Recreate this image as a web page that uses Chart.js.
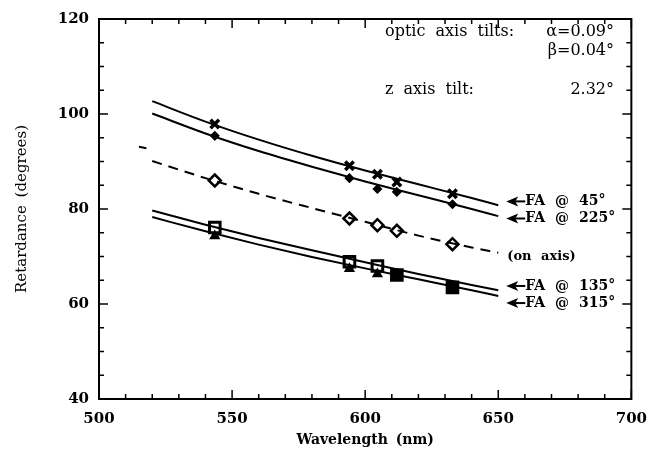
<!DOCTYPE html>
<html>
<head>
<meta charset="utf-8">
<script src="https://cdn.jsdelivr.net/npm/chart.js@4.4.1/dist/chart.umd.min.js"></script>
<style>
  html, body { margin: 0; padding: 0; background: #fff; }
  #wrap { width: 658px; height: 452px; }
</style>
</head>
<body>
<div id="wrap"><canvas id="chart" width="658" height="452"></canvas></div>
<script>
const curveWl = [520, 540, 560, 580, 600, 620, 640, 650];
const fa45Curve   = [102.7, 98.4, 94.6, 91.2, 88.1, 85.2, 82.3, 80.8];
const fa225Curve  = [100.1, 95.9, 92.2, 88.9, 85.8, 82.9, 80.0, 78.5];
const onAxisCurve = [90.1, 86.5, 83.2, 80.2, 77.3, 74.4, 71.9, 70.8];
const fa135Curve  = [79.7, 76.7, 73.9, 71.3, 68.8, 66.3, 64.0, 62.9];
const fa315Curve  = [78.3, 75.3, 72.5, 69.9, 67.5, 65.2, 62.9, 61.7];

// short stray dash left of the dashed curve
const strayWl  = [515, 517.8];
const strayVal = [93.1, 92.8];

// measured points (laser lines)
const laserWl   = [543.5, 594.1, 604.6, 611.9, 632.8];
const fa45Pts   = [97.9, 89.1, 87.3, 85.7, 83.2];
const fa225Pts  = [95.4, 86.5, 84.2, 83.6, 81.0];
const onAxisPts = [86.0, 78.0, 76.6, 75.4, 72.6];
const fa135Pts  = [76.1, 68.9, 68.0, 66.1, 63.5];
const fa315Pts  = [74.3, 67.4, 66.3, 65.8, 63.0];

const xTicks = [500, 550, 600, 650, 700];
const yTicks = [40, 60, 80, 100, 120];

const curveLabels = ['FA @ 45°', 'FA @ 225°', '(on axis)', 'FA @ 135°', 'FA @ 315°'];

const SERIF = '"DejaVu Serif", "Liberation Serif", serif';

function pts(xs, ys) {
    return xs.map((x, i) => ({ x: x, y: ys[i] }));
}

function curve(ys, dashed) {
    return {
        data: pts(curveWl, ys),
        showLine: true,
        borderColor: '#000',
        borderWidth: 2,
        borderDash: dashed ? [10, 7] : [],
        pointRadius: 0,
        cubicInterpolationMode: 'monotone'
    };
}

function markers(ys, style, radius, fill, bw) {
    return {
        data: pts(laserWl, ys),
        showLine: false,
        pointStyle: style,
        pointRadius: radius,
        pointBackgroundColor: fill,
        pointBorderColor: '#000',
        pointBorderWidth: bw
    };
}

// frame, inward ticks, labels and arrows
const decorations = {
    id: 'decorations',
    beforeDraw(chart) {
        const ctx = chart.ctx;
        ctx.save();
        ctx.fillStyle = '#fff';
        ctx.fillRect(0, 0, chart.width, chart.height);
        ctx.restore();
    },
    afterDraw(chart) {
        const ctx = chart.ctx;
        const a = chart.chartArea;
        const xs = chart.scales.x;
        const ys = chart.scales.y;
        ctx.save();
        ctx.strokeStyle = '#000';
        ctx.fillStyle = '#000';

        // frame
        ctx.lineWidth = 2;
        ctx.strokeRect(a.left, a.top, a.right - a.left, a.bottom - a.top);

        // ticks
        ctx.lineWidth = 1.5;
        ctx.beginPath();
        for (let v = 500; v <= 700; v += 10) {
            const px = xs.getPixelForValue(v);
            const len = v % 50 === 0 ? 9 : 5;
            ctx.moveTo(px, a.bottom); ctx.lineTo(px, a.bottom - len);
            ctx.moveTo(px, a.top); ctx.lineTo(px, a.top + len);
        }
        for (let v = 40; v <= 120; v += 5) {
            const py = ys.getPixelForValue(v);
            const len = v % 20 === 0 ? 9 : 5;
            ctx.moveTo(a.left, py); ctx.lineTo(a.left + len, py);
            ctx.moveTo(a.right, py); ctx.lineTo(a.right - len, py);
        }
        ctx.stroke();

        // axis titles
        ctx.textAlign = 'center';
        ctx.textBaseline = 'middle';
        ctx.wordSpacing = '3px';
        ctx.font = 'bold 14px ' + SERIF;
        ctx.fillText('Wavelength (nm)', (a.left + a.right) / 2, a.bottom + 41);
        ctx.save();
        ctx.translate(22, (a.top + a.bottom) / 2);
        ctx.rotate(-Math.PI / 2);
        ctx.font = '15px ' + SERIF;
        ctx.fillText('Retardance (degrees)', 0, 0);
        ctx.restore();

        // tilt annotation
        ctx.font = '16px ' + SERIF;
        ctx.wordSpacing = '5px';
        ctx.textAlign = 'left';
        ctx.fillText('optic axis tilts:', 385, 32);
        ctx.fillText('z axis tilt:', 385, 90);
        ctx.wordSpacing = '0px';
        ctx.textAlign = 'right';
        ctx.fillText('α=0.09°', 614, 32);
        ctx.fillText('β=0.04°', 614, 51);
        ctx.fillText('2.32°', 614, 90);

        // curve labels with arrows
        const tipX = xs.getPixelForValue(653);
        const labelY = [81.6, 78.0, 70.0, 63.8, 60.2];
        ctx.font = 'bold 14px ' + SERIF;
        ctx.wordSpacing = '5px';
        ctx.textAlign = 'left';
        curveLabels.forEach((txt, i) => {
            const y = ys.getPixelForValue(labelY[i]);
            if (i === 2) {
                ctx.font = 'bold 13px ' + SERIF;
                ctx.fillText(txt, tipX + 1, y);
                ctx.font = 'bold 14px ' + SERIF;
                return;
            }
            ctx.beginPath();
            ctx.moveTo(tipX, y);
            ctx.lineTo(tipX + 12, y - 5);
            ctx.lineTo(tipX + 9, y);
            ctx.lineTo(tipX + 12, y + 5);
            ctx.closePath();
            ctx.fill();
            ctx.lineWidth = 2;
            ctx.beginPath();
            ctx.moveTo(tipX + 8, y);
            ctx.lineTo(tipX + 19, y);
            ctx.stroke();
            ctx.fillText(txt, tipX + 19, y);
        });
        ctx.restore();
    }
};

new Chart(document.getElementById('chart'), {
    type: 'scatter',
    data: {
        datasets: [
            curve(fa45Curve, false),
            curve(fa225Curve, false),
            curve(onAxisCurve, true),
            curve(fa135Curve, false),
            curve(fa315Curve, false),
            {
                data: pts(strayWl, strayVal),
                showLine: true,
                borderColor: '#000',
                borderWidth: 2,
                pointRadius: 0
            },
            markers(fa45Pts, 'crossRot', 6, '#000', 3.5),
            markers(fa225Pts, 'rectRot', 4, '#000', 1.5),
            markers(onAxisPts, 'rectRot', 6, '#fff', 2.5),
            markers(fa315Pts, 'triangle', 5, '#000', 1.5),
            markers(fa135Pts, 'rect', 7.5, ['#fff', '#fff', '#fff', '#000', '#000'], 3)
        ]
    },
    plugins: [decorations],
    options: {
        responsive: false,
        animation: false,
        events: [],
        layout: { padding: { top: 19, right: 24, left: 0, bottom: 0 } },
        plugins: {
            legend: { display: false },
            tooltip: { enabled: false }
        },
        scales: {
            x: {
                type: 'linear',
                min: 500,
                max: 700,
                grid: { display: false, drawTicks: false },
                border: { display: false },
                afterFit(scale) { scale.height = 53; },
                afterBuildTicks(scale) { scale.ticks = xTicks.map(v => ({ value: v })); },
                ticks: {
                    color: '#000',
                    padding: 11,
                    font: { family: SERIF, size: 15, weight: 'bold' }
                }
            },
            y: {
                type: 'linear',
                min: 40,
                max: 120,
                grid: { display: false, drawTicks: false },
                border: { display: false },
                afterFit(scale) { scale.width = 99; },
                afterBuildTicks(scale) { scale.ticks = yTicks.map(v => ({ value: v })); },
                ticks: {
                    color: '#000',
                    padding: 10,
                    font: { family: SERIF, size: 15, weight: 'bold' }
                }
            }
        }
    }
});
</script>
</body>
</html>
